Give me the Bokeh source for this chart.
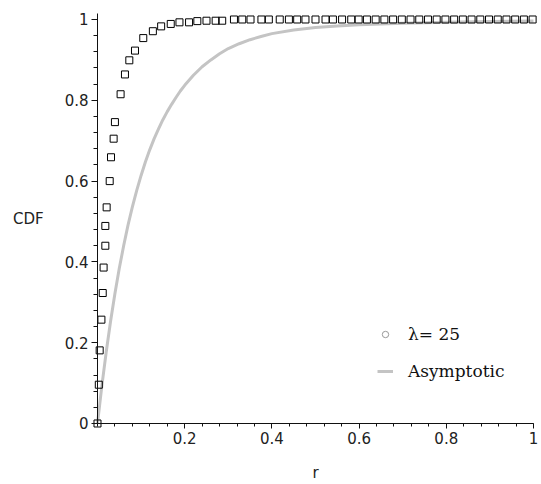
from bokeh.plotting import figure
from bokeh.models import (FixedTicker, PrintfTickFormatter, Legend, LegendItem, Range1d)
from bokeh.embed import file_html
from bokeh.resources import INLINE

# ---- data ----
sim_r = [0.0, 0.003, 0.005, 0.009, 0.012, 0.014, 0.018, 0.018, 0.021, 0.028,
         0.031, 0.037, 0.040, 0.053, 0.063, 0.073, 0.086, 0.105, 0.127, 0.146,
         0.168, 0.188, 0.210, 0.229, 0.250, 0.271, 0.286, 0.313, 0.332, 0.351,
         0.376, 0.393, 0.418, 0.439, 0.458, 0.477, 0.500, 0.523, 0.540, 0.561,
         0.582, 0.599, 0.618, 0.638, 0.658, 0.678, 0.698, 0.718, 0.738, 0.758,
         0.778, 0.798, 0.818, 0.838, 0.858, 0.878, 0.898, 0.918, 0.938, 0.958,
         0.978, 0.998]
sim_cdf = [0.0, 0.096, 0.181, 0.257, 0.323, 0.386, 0.440, 0.489, 0.535, 0.600,
           0.659, 0.705, 0.746, 0.815, 0.864, 0.899, 0.923, 0.954, 0.971, 0.983,
           0.989, 0.993, 0.993, 0.996, 0.997, 0.997, 0.997, 1.0, 1.0, 1.0,
           1.0, 1.0, 1.0, 1.0, 1.0, 1.0, 1.0, 1.0, 1.0, 1.0,
           1.0, 1.0, 1.0, 1.0, 1.0, 1.0, 1.0, 1.0, 1.0, 1.0,
           1.0, 1.0, 1.0, 1.0, 1.0, 1.0, 1.0, 1.0, 1.0, 1.0,
           1.0, 1.0]

asym_r = [0.0, 0.01, 0.02, 0.03, 0.04, 0.05, 0.06, 0.07, 0.08, 0.09,
          0.10, 0.11, 0.12, 0.13, 0.14, 0.15, 0.16, 0.17, 0.18, 0.19,
          0.20, 0.22, 0.24, 0.26, 0.28, 0.30, 0.325, 0.35, 0.375, 0.40,
          0.45, 0.50, 0.55, 0.60, 0.65, 0.70, 0.80, 0.90, 1.0]
asym_cdf = [0.0, 0.093, 0.177, 0.253, 0.322, 0.384, 0.440, 0.491, 0.536, 0.577,
            0.614, 0.648, 0.678, 0.705, 0.729, 0.752, 0.772, 0.790, 0.807, 0.823,
            0.837, 0.862, 0.883, 0.900, 0.915, 0.928, 0.940, 0.950, 0.958, 0.965,
            0.974, 0.980, 0.984, 0.987, 0.989, 0.991, 0.993, 0.995, 0.996]

x_major = [0.2, 0.4, 0.6, 0.8, 1.0]
x_minor = [i * 0.04 for i in range(26)]
y_major = [0.0, 0.2, 0.4, 0.6, 0.8, 1.0]
y_minor = [i * 0.04 for i in range(26)]

series_label = "λ= 25"
line_label = "Asymptotic"

p = figure(width=541, height=484, output_backend="svg", toolbar_location=None,
           x_range=Range1d(-0.211, 1.0115), y_range=Range1d(-0.151, 1.0297),
           min_border_left=5, min_border_right=3, min_border_top=7,
           min_border_bottom=0)
p.outline_line_color = None
p.grid.visible = False
p.background_fill_color = "white"
p.border_fill_color = "white"

line_r = p.line(asym_r, asym_cdf, line_color="#c4c4c4", line_width=3,
                line_join="round")
pts_r = p.scatter(sim_r, sim_cdf, marker="square", size=7,
                  line_color="black", line_width=1, fill_color=None)
legend_dot = p.scatter([float("nan")], [float("nan")], marker="circle", size=4,
                       line_color="#999999", fill_color=None, line_width=1)

for ax in (p.xaxis[0], p.yaxis[0]):
    ax.fixed_location = 0
    ax.axis_line_color = "#111111"
    ax.major_tick_line_color = "#111111"
    ax.minor_tick_line_color = "#111111"
    ax.major_tick_in = 0
    ax.minor_tick_in = 0
    ax.major_label_text_font = "DejaVu Sans"
    ax.major_label_text_font_size = "15px"
    ax.major_label_text_color = "#222222"
    ax.axis_label_text_font = "DejaVu Sans"
    ax.axis_label_text_font_size = "15px"
    ax.axis_label_text_font_style = "normal"
    ax.axis_label_text_color = "#222222"
    ax.formatter = PrintfTickFormatter(format="%g")

xa = p.xaxis[0]
xa.ticker = FixedTicker(ticks=x_major, minor_ticks=x_minor)
xa.bounds = (0, 1)
xa.major_tick_out = 5
xa.minor_tick_out = 3
xa.major_label_standoff = 4
xa.axis_label = "r"
xa.axis_label_standoff = 16

ya = p.yaxis[0]
ya.ticker = FixedTicker(ticks=y_major, minor_ticks=y_minor)
ya.bounds = (0, 1.016)
ya.major_tick_out = 6
ya.minor_tick_out = 4
ya.major_label_standoff = 3
ya.axis_label = "CDF"
ya.axis_label_orientation = "horizontal"
ya.axis_label_standoff = 18

legend = Legend(items=[LegendItem(label=series_label, renderers=[legend_dot]),
                       LegendItem(label=line_label, renderers=[line_r])],
                location=(372, 103))
legend.border_line_color = None
legend.background_fill_alpha = 0
legend.padding = 0
legend.margin = 0
legend.spacing = 17
legend.glyph_width = 16
legend.label_standoff = 15
legend.label_text_font = "DejaVu Serif"
legend.label_text_font_size = "17px"
legend.label_text_color = "#111111"
p.add_layout(legend)

open("out.html", "w").write(file_html(p, INLINE))
